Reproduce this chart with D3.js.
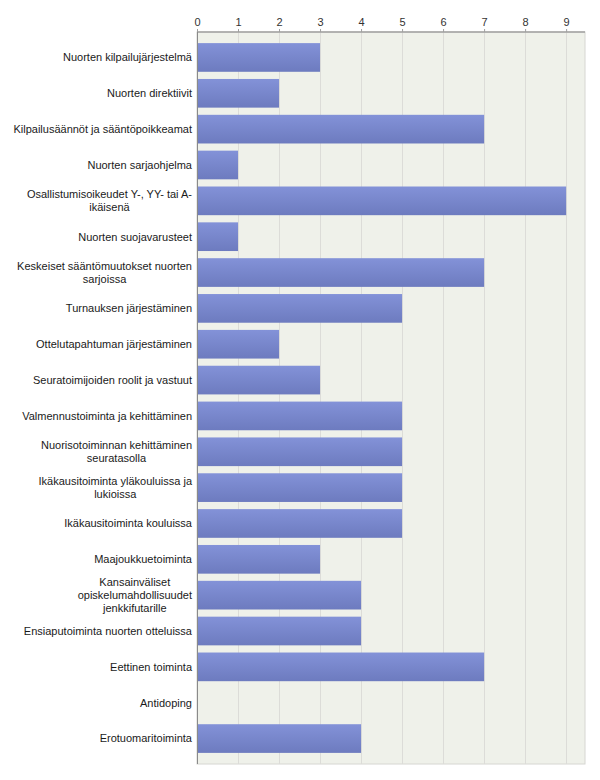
<!DOCTYPE html>
<html><head><meta charset="utf-8">
<script src="https://cdn.jsdelivr.net/npm/d3@7/dist/d3.min.js"></script>
<style>body{margin:0;background:#fff;} text{font-family:"Liberation Sans",Arial,Helvetica,sans-serif;}</style>
</head><body>
<svg id="c" width="600" height="780"></svg>
<script>
const categoryLines = [
  ["Nuorten kilpailujärjestelmä"],
  ["Nuorten direktiivit"],
  ["Kilpailusäännöt ja sääntöpoikkeamat"],
  ["Nuorten sarjaohjelma"],
  ["Osallistumisoikeudet Y-, YY- tai A-", "ikäisenä"],
  ["Nuorten suojavarusteet"],
  ["Keskeiset sääntömuutokset nuorten", "sarjoissa"],
  ["Turnauksen järjestäminen"],
  ["Ottelutapahtuman järjestäminen"],
  ["Seuratoimijoiden roolit ja vastuut"],
  ["Valmennustoiminta ja kehittäminen"],
  ["Nuorisotoiminnan kehittäminen", "seuratasolla"],
  ["Ikäkausitoiminta yläkouluissa ja", "lukioissa"],
  ["Ikäkausitoiminta kouluissa"],
  ["Maajoukkuetoiminta"],
  ["Kansainväliset", "opiskelumahdollisuudet", "jenkkifutarille"],
  ["Ensiaputoiminta nuorten otteluissa"],
  ["Eettinen toiminta"],
  ["Antidoping"],
  ["Erotuomaritoiminta"]
];
const categories = categoryLines.map(l => l.join(" ").replace("A- ikäisenä", "A-ikäisenä"));
const values = [3,2,7,1,9,1,7,5,2,3,5,5,5,5,3,4,4,7,0,4];
const tickValues = [0,1,2,3,4,5,6,7,8,9];

(function(){
const svg = d3.select("#c");
const pl = 197, pr = 585, pt = 32, pb = 764;
const x = d3.scaleLinear().domain([0, 9.46]).range([pl, pr]);
const y = d3.scaleBand().domain(categories).range([pt, pb]).paddingInner(0.2).paddingOuter(0.31);

const defs = svg.append("defs");
const g = defs.append("linearGradient").attr("id","bar").attr("x1",0).attr("y1",0).attr("x2",0).attr("y2",1);
g.append("stop").attr("offset","0%").attr("stop-color","#8392d8");
g.append("stop").attr("offset","100%").attr("stop-color","#6d7bbf");

svg.append("rect").attr("x",pl).attr("y",pt).attr("width",pr-pl).attr("height",pb-pt)
  .attr("fill","#eff1ea").attr("stroke","#d6d6d2").attr("stroke-width",1);

svg.append("g").selectAll("line").data(tickValues.slice(1)).join("line")
  .attr("x1",d=>Math.round(x(d))+0.5).attr("x2",d=>Math.round(x(d))+0.5)
  .attr("y1",pt).attr("y2",pb).attr("stroke","#dcdcd8").attr("stroke-width",1);

svg.append("g").selectAll("rect").data(categories).join("rect")
  .attr("x",x(0)).attr("y",(d)=>y(d))
  .attr("width",(d,i)=>x(values[i])-x(0)).attr("height",y.bandwidth())
  .attr("fill","url(#bar)");

const axis = d3.axisTop(x).tickValues(tickValues).tickSize(3).tickPadding(3).tickFormat(d3.format("d"));
const ag = svg.append("g").attr("transform",`translate(0,${pt})`).call(axis);
ag.select(".domain").attr("stroke","#a0a0a0").attr("stroke-width",1.5).attr("d",`M${pl},0H${pr}`);
ag.selectAll(".tick line").attr("stroke","#a0a0a0");
ag.selectAll(".tick text").attr("fill","#333").style("font-size","11px")
  .style("font-family",'"Liberation Sans",Arial,sans-serif');

svg.append("line").attr("x1",pl+0.5).attr("x2",pl+0.5).attr("y1",pt).attr("y2",pb).attr("stroke","#8a8a8a");

const lh = 13, lx = 192;
const lg = svg.append("g");
categories.forEach((c, ci) => {
  const lines = categoryLines[ci];
  const t = lg.append("text").style("font-size","11px").attr("fill","#1a1a1a");
  const widths = lines.map(s => { t.text(s); return t.node().getComputedTextLength(); });
  t.text(null);
  const bw = Math.max(...widths);
  const cx = lx - bw/2;
  const cy = y(c) + y.bandwidth()/2;
  const y0 = cy - (lines.length-1)*lh/2;
  lines.forEach((l, i) => {
    t.append("tspan").attr("x",cx).attr("y",y0 + i*lh).attr("dy","0.35em")
      .attr("text-anchor","middle").text(l);
  });
});
})();
</script>
</body></html>
